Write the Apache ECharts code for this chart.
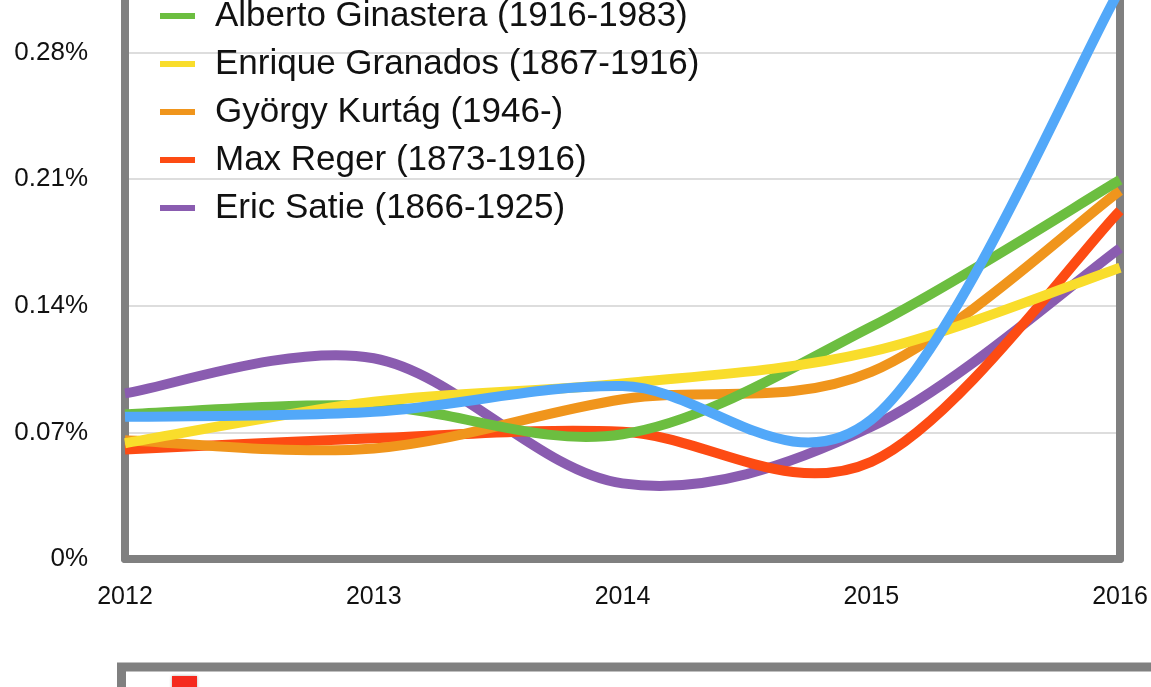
<!DOCTYPE html>
<html>
<head>
<meta charset="utf-8">
<script src="https://cdn.jsdelivr.net/npm/echarts@6/dist/echarts.min.js"></script>
<style>
html,body{margin:0;padding:0;background:#fff;}
#chart{width:1151px;height:687px;}
</style>
</head>
<body>
<div id="chart"></div>
<script>
// ---- data ----
var years = ['2012', '2013', '2014', '2015', '2016'];
var yTicks = [0, 0.07, 0.14, 0.21, 0.28, 0.35];

var seriesNames = ['Alberto Ginastera (1916-1983)', 'Enrique Granados (1867-1916)', 'György Kurtág (1946-)', 'Max Reger (1873-1916)', 'Eric Satie (1866-1925)'];
var topSeriesName = 'Series 1'; // legend entry cropped off the top of the picture

var ginastera = [0.0800, 0.0846, 0.0690, 0.1284, 0.2096];
var granados  = [0.0640, 0.0869, 0.0970, 0.1146, 0.1611];
var kurtag    = [0.0657, 0.0611, 0.0883, 0.1035, 0.2037];
var reger     = [0.0606, 0.0667, 0.0703, 0.0537, 0.1926];
var satie     = [0.0916, 0.1110, 0.0418, 0.0731, 0.1718];
var blueSeries = [0.0786, 0.0814, 0.0956, 0.0770, 0.3150];

var colors = {
  ginastera: '#6CBE40',
  granados: '#F9DD2B',
  kurtag: '#F0951C',
  reger: '#FD4B13',
  satie: '#8A5CB0',
  blue: '#52A8F9'
};

// Catmull-Rom smoothed line drawn through axis coordinates
function smoothSeries(name, values, color) {
  return {
    type: 'custom',
    name: name,
    coordinateSystem: 'cartesian2d',
    data: values.map(function (v, i) { return [i, v]; }),
    encode: { x: 0, y: 1 },
    itemStyle: { color: color },
    renderItem: function (params, api) {
      if (params.dataIndex !== 0) return null;
      var p = values.map(function (v, i) { return api.coord([i, v]); });
      var n = p.length;
      var d = 'M' + p[0][0] + ',' + p[0][1];
      for (var i = 0; i < n - 1; i++) {
        var p0 = p[Math.max(i - 1, 0)], p1 = p[i], p2 = p[i + 1], p3 = p[Math.min(i + 2, n - 1)];
        var c1x = p1[0] + (p2[0] - p0[0]) / 6, c1y = p1[1] + (p2[1] - p0[1]) / 6;
        var c2x = p2[0] - (p3[0] - p1[0]) / 6, c2y = p2[1] - (p3[1] - p1[1]) / 6;
        d += ' C' + c1x + ',' + c1y + ' ' + c2x + ',' + c2y + ' ' + p2[0] + ',' + p2[1];
      }
      return {
        type: 'path',
        shape: { pathData: d },
        style: { stroke: color, lineWidth: 10, fill: 'none', lineCap: 'butt', lineJoin: 'round' }
      };
    }
  };
}

var chart = echarts.init(document.getElementById('chart'), null, { renderer: 'canvas' });

var fmt = function (v) {
  return v === 0 ? '0%' : v.toFixed(2) + '%';
};

chart.setOption({
  backgroundColor: '#ffffff',
  animation: false,
  textStyle: { fontFamily: 'Liberation Sans' },
  grid: { left: 125, right: 31, top: -74, bottom: 128, containLabel: false, outerBoundsMode: 'none' },
  legend: {
    data: seriesNames,
    orient: 'vertical',
    left: 155,
    top: -9,
    icon: 'rect',
    itemWidth: 35,
    itemHeight: 6,
    itemGap: 8,
    textStyle: { fontFamily: 'Liberation Sans', fontSize: 35, color: '#111', lineHeight: 40, padding: [0, 0, 0, 15] }
  },
  xAxis: {
    type: 'category',
    data: years,
    boundaryGap: false,
    axisLine: { show: true, lineStyle: { color: '#808080', width: 8 } },
    axisTick: { show: false },
    splitLine: { show: false },
    axisLabel: { color: '#111', fontSize: 25, margin: 26, fontFamily: 'Liberation Sans' }
  },
  yAxis: [{
    type: 'value',
    min: yTicks[0],
    max: yTicks[yTicks.length - 1],
    interval: 0.07,
    axisLine: { show: true, lineStyle: { color: '#808080', width: 8 } },
    axisTick: { show: false },
    splitLine: { show: true, lineStyle: { color: '#DDDDDD', width: 2 } },
    axisLabel: { color: '#111', fontSize: 26, margin: 37, formatter: fmt, fontFamily: 'Liberation Sans' }
  }, {
    type: 'value',
    position: 'right',
    min: yTicks[0],
    max: yTicks[yTicks.length - 1],
    interval: 0.07,
    axisLine: { show: true, lineStyle: { color: '#808080', width: 8 } },
    axisTick: { show: false },
    axisLabel: { show: false },
    splitLine: { show: false }
  }],
  series: [
    smoothSeries(seriesNames[4], satie, colors.satie),
    smoothSeries(seriesNames[3], reger, colors.reger),
    smoothSeries(seriesNames[2], kurtag, colors.kurtag),
    smoothSeries(seriesNames[0], ginastera, colors.ginastera),
    smoothSeries(seriesNames[1], granados, colors.granados),
    smoothSeries(topSeriesName, blueSeries, colors.blue)
  ],
  graphic: [
    {
      type: 'rect',
      shape: { x: 121.5, y: 667, width: 1200, height: 120 },
      style: { fill: '#ffffff', stroke: '#808080', lineWidth: 9 },
      silent: true
    },
    {
      type: 'rect',
      shape: { x: 172, y: 676, width: 25, height: 20 },
      style: { fill: '#F52A1E', shadowBlur: 3, shadowColor: 'rgba(0,0,0,0.3)' },
      silent: true
    }
  ]
});
</script>
</body>
</html>
